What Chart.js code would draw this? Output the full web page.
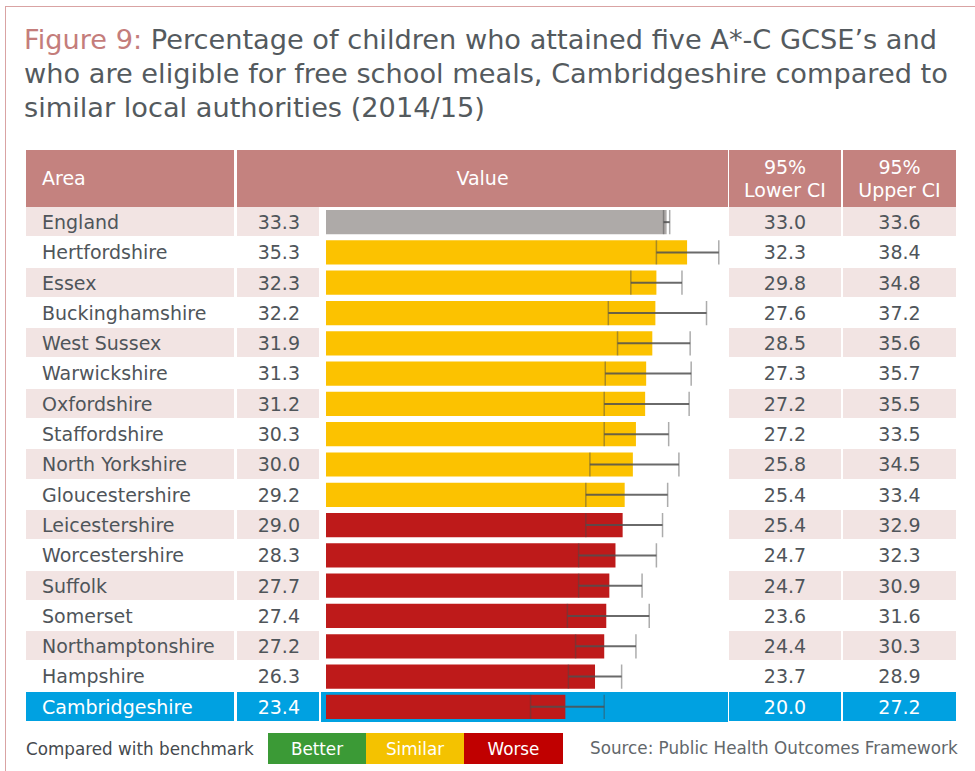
<!DOCTYPE html>
<html>
<head>
<meta charset="utf-8">
<script src="https://cdn.jsdelivr.net/npm/chart.js@4"></script>
<style>
  body { margin: 0; background: #fff; font-family: "DejaVu Sans", sans-serif; }
  #page { position: relative; width: 975px; height: 771px; overflow: hidden; }
  #frame { position: absolute; left: 5px; top: 6px; right: -2px; bottom: -2px;
           border-top: 1px solid #d9a3a3; border-left: 1px solid #d9a3a3; }
  #title { position: absolute; left: 24px; top: 22.5px; font-size: 27.2px; line-height: 34px;
           color: #545a5e; white-space: nowrap; }
  #title .fig { color: #c47d7b; }
  .cell { position: absolute; box-sizing: border-box; white-space: nowrap; font-size: 19px;
          color: #4f555a; display: flex; align-items: center; }
  .head { background: #c4827f; color: #fff; font-size: 19px; line-height: 23px; text-align: center; justify-content: center; }
  #chartWrap { position: absolute; left: 321px; top: 207px; width: 407px; height: 515px; }
  .legend-text { position: absolute; font-size: 16.8px; color: #454a4e; white-space: nowrap; }
  .box { position: absolute; top: 733px; height: 31px; color: #fff; font-size: 16.8px;
         display: flex; align-items: center; justify-content: center; }
</style>
</head>
<body>
<div id="page">
  <div id="frame"></div>
  <div id="title"><span class="fig">Figure 9:</span> Percentage of children who attained five A*-C GCSE’s and<br>who are eligible for free school meals, Cambridgeshire compared to<br>similar local authorities (2014/15)</div>
  <div id="table"></div>
  <div id="chartWrap"><canvas id="barChart" width="407" height="515"></canvas></div>

  <div class="legend-text" style="left:26px;top:739px;">Compared with benchmark</div>
  <div class="box" style="left:268px;width:98px;background:#3b9a36;">Better</div>
  <div class="box" style="left:366px;width:98px;background:#f4c200;">Similar</div>
  <div class="box" style="left:464px;width:99px;background:#c00000;">Worse</div>
  <div class="legend-text" style="left:590px;top:738px;color:#62676b;">Source: Public Health Outcomes Framework</div>
</div>

<script>
/* ================== DATA ================== */
const areas = [
  "England", "Hertfordshire", "Essex", "Buckinghamshire", "West Sussex",
  "Warwickshire", "Oxfordshire", "Staffordshire", "North Yorkshire",
  "Gloucestershire", "Leicestershire", "Worcestershire", "Suffolk",
  "Somerset", "Northamptonshire", "Hampshire", "Cambridgeshire"
];
const values = [33.3, 35.3, 32.3, 32.2, 31.9, 31.3, 31.2, 30.3, 30.0, 29.2, 29.0, 28.3, 27.7, 27.4, 27.2, 26.3, 23.4];
const lowerCI = [33.0, 32.3, 29.8, 27.6, 28.5, 27.3, 27.2, 27.2, 25.8, 25.4, 25.4, 24.7, 24.7, 23.6, 24.4, 23.7, 20.0];
const upperCI = [33.6, 38.4, 34.8, 37.2, 35.6, 35.7, 35.5, 33.5, 34.5, 33.4, 32.9, 32.3, 30.9, 31.6, 30.3, 28.9, 27.2];
const comparison = [
  "benchmark", "similar", "similar", "similar", "similar", "similar",
  "similar", "similar", "similar", "similar", "worse", "worse", "worse",
  "worse", "worse", "worse", "worse"
];
const highlightArea = "Cambridgeshire";

/* ================== COLOURS ================== */
const barColours = { benchmark: "#aeaaa8", better: "#3b9a36", similar: "#fcc200", worse: "#be1a1a" };
const PINK = "#f2e4e3", BLUE = "#00a1e1", HEAD = "#c4827f";

/* ================== TABLE ================== */
const table = document.getElementById("table");
const TOP = 207, PITCH = 515 / areas.length;

function addCell(x, y, w, h, bg, html, cls, align) {
  const d = document.createElement("div");
  d.className = "cell " + (cls || "");
  d.style.left = x + "px";
  d.style.top = y + "px";
  d.style.width = w + "px";
  d.style.height = h + "px";
  if (bg) d.style.background = bg;
  if (align) d.style.justifyContent = align;
  d.innerHTML = html;
  table.appendChild(d);
  return d;
}

// header
addCell(26, 150, 208, 57, HEAD, "Area", "head", "flex-start").style.paddingLeft = "16px";
addCell(237, 150, 491, 57, HEAD, "Value", "head");
addCell(729, 150, 112, 57, HEAD, "95%<br>Lower CI", "head");
addCell(843, 150, 113, 57, HEAD, "95%<br>Upper CI", "head");

areas.forEach((area, i) => {
  const y = Math.round(TOP + i * PITCH);
  const h = Math.round(TOP + (i + 1) * PITCH) - y - 1;
  const hl = area === highlightArea;
  const bg = hl ? BLUE : (i % 2 === 0 ? PINK : null);
  const col = hl ? "#fff" : null;

  const c1 = addCell(26, y, 208, h, bg, area, "", "flex-start");
  c1.style.paddingLeft = "16px";
  const c2 = addCell(237, y, 82, h, bg, values[i].toFixed(1), "", "flex-end");
  c2.style.paddingRight = "19px";
  if (hl) addCell(321, y, 407, h + 1, BLUE, "");
  const c3 = addCell(729, y, 112, h, bg, lowerCI[i].toFixed(1), "", "center");
  const c4 = addCell(843, y, 113, h, bg, upperCI[i].toFixed(1), "", "center");
  if (col) [c1, c2, c3, c4].forEach(c => c.style.color = col);
});

/* ================== ERROR BARS ================== */
const errorBars = {
  id: "errorBars",
  afterDatasetsDraw(chart) {
    const { ctx } = chart;
    const x = chart.scales.x;
    const meta = chart.getDatasetMeta(0);
    ctx.save();
    meta.data.forEach((bar, i) => {
      const half = bar.height / 2;
      const x0 = x.getPixelForValue(lowerCI[i]);
      const x1 = x.getPixelForValue(upperCI[i]);
      ctx.strokeStyle = "rgba(70,70,70,0.45)";
      ctx.lineWidth = 1.5;
      ctx.beginPath();
      ctx.moveTo(x0, bar.y - half); ctx.lineTo(x0, bar.y + half);
      ctx.moveTo(x1, bar.y - half); ctx.lineTo(x1, bar.y + half);
      ctx.stroke();
      ctx.strokeStyle = "rgba(80,80,80,0.85)";
      ctx.lineWidth = 2;
      ctx.beginPath();
      ctx.moveTo(x0, bar.y); ctx.lineTo(x1, bar.y);
      ctx.stroke();
    });
    ctx.restore();
  }
};

/* ================== CHART ================== */
new Chart(document.getElementById("barChart"), {
  type: "bar",
  data: {
    labels: areas,
    datasets: [{
      data: values,
      backgroundColor: comparison.map(c => barColours[c]),
      barPercentage: 0.8,
      categoryPercentage: 1,
      borderWidth: 0
    }]
  },
  options: {
    indexAxis: "y",
    responsive: false,
    animation: false,
    layout: { padding: { left: 5, right: 0, top: 0, bottom: 0 } },
    plugins: { legend: { display: false }, tooltip: { enabled: false } },
    scales: {
      x: { display: false, min: 0, max: 39.3 },
      y: { display: false }
    }
  },
  plugins: [errorBars]
});
</script>
</body>
</html>
